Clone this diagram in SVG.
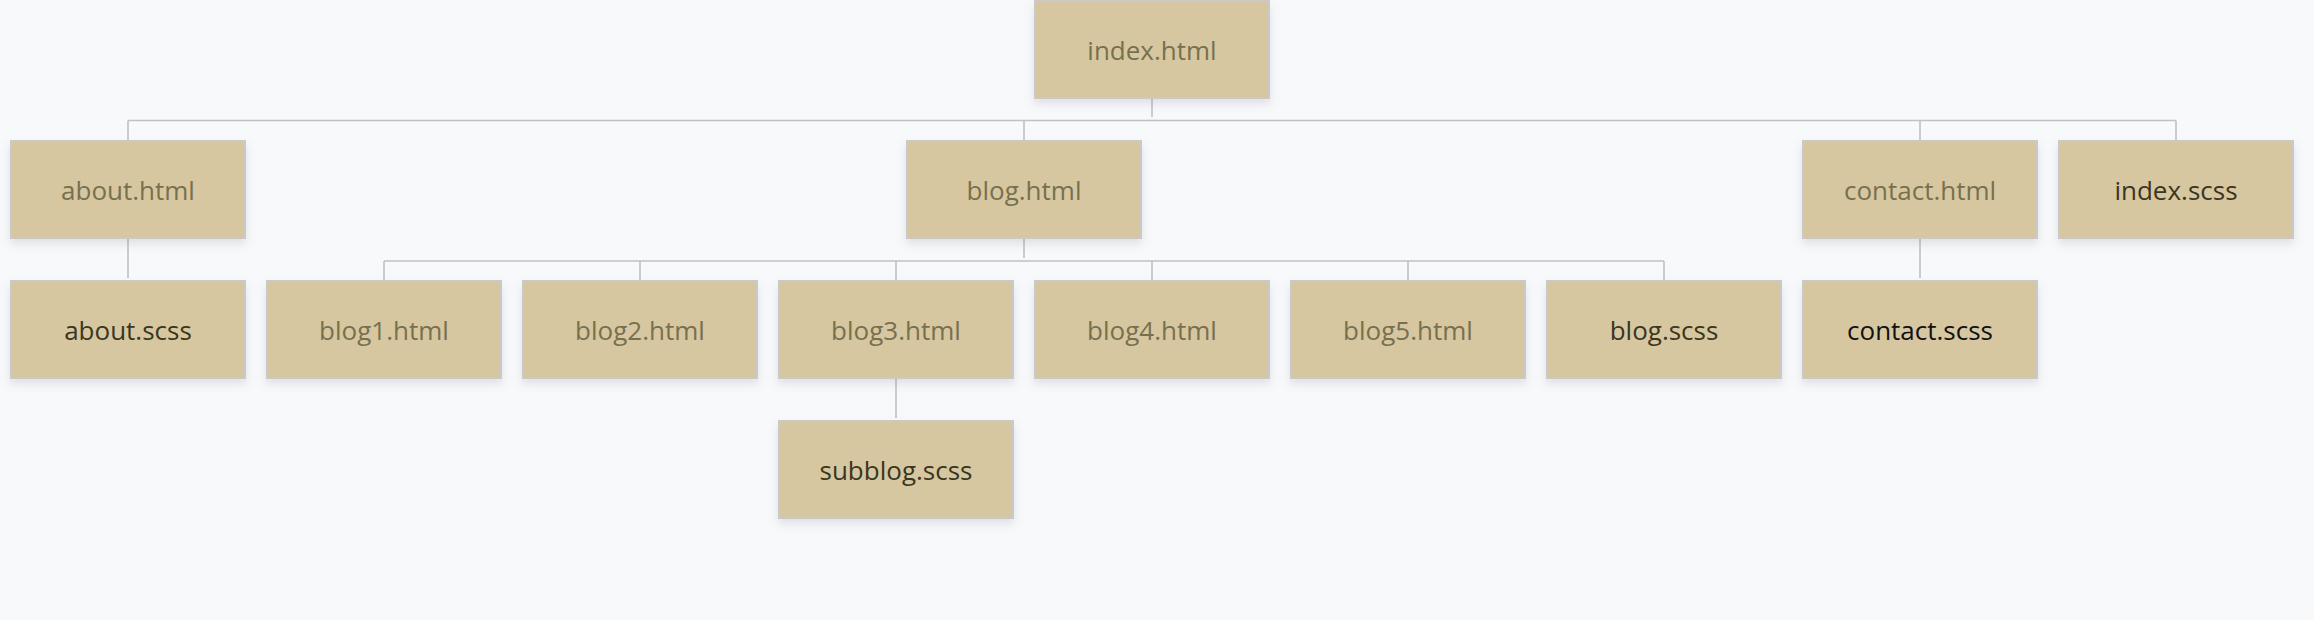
<svg xmlns="http://www.w3.org/2000/svg" width="2314" height="620" viewBox="0 0 2314 620">
<defs>
<filter id="sh" x="-10%" y="-20%" width="120%" height="150%">
<feDropShadow dx="0" dy="5" stdDeviation="5" flood-color="#6b6f7a" flood-opacity="0.18"/>
</filter>
<style>
.box{fill:#d6c7a0;stroke:#c9c9c9;stroke-width:2;filter:url(#sh)}
.t{font-family:"Open Sans","Noto Sans",sans-serif;font-size:26px;text-anchor:middle}
.h{fill:#76704f}
.s{fill:#3a3620}
.k{fill:#111111}
.c{fill:none;stroke:#bfc1c5;stroke-width:1.6}
</style>
</defs>
<rect width="2314" height="620" fill="#f8f9fb"/>
<g id="connectors">
<path class="c" d="M1152 99V117M128 120.5H2176M128 120.5V140M1024 120.5V140M1920 120.5V140M2176 120.5V140"/>
<path class="c" d="M1024 239V258M384 261H1664M384 261V280M640 261V280M896 261V280M1152 261V280M1408 261V280M1664 261V280"/>
<path class="c" d="M128 239V278M1920 239V278M896 379V418"/>
</g>
<g id="index_html"><rect class="box" x="1035" y="1" width="234" height="97"/><text class="t h" x="1152" y="60">index.html</text></g>
<g id="about_html"><rect class="box" x="11" y="141" width="234" height="97"/><text class="t h" x="128" y="200">about.html</text></g>
<g id="blog_html"><rect class="box" x="907" y="141" width="234" height="97"/><text class="t h" x="1024" y="200">blog.html</text></g>
<g id="contact_html"><rect class="box" x="1803" y="141" width="234" height="97"/><text class="t h" x="1920" y="200">contact.html</text></g>
<g id="index_scss"><rect class="box" x="2059" y="141" width="234" height="97"/><text class="t s" x="2176" y="200">index.scss</text></g>
<g id="about_scss"><rect class="box" x="11" y="281" width="234" height="97"/><text class="t s" x="128" y="340">about.scss</text></g>
<g id="blog1_html"><rect class="box" x="267" y="281" width="234" height="97"/><text class="t h" x="384" y="340">blog1.html</text></g>
<g id="blog2_html"><rect class="box" x="523" y="281" width="234" height="97"/><text class="t h" x="640" y="340">blog2.html</text></g>
<g id="blog3_html"><rect class="box" x="779" y="281" width="234" height="97"/><text class="t h" x="896" y="340">blog3.html</text></g>
<g id="blog4_html"><rect class="box" x="1035" y="281" width="234" height="97"/><text class="t h" x="1152" y="340">blog4.html</text></g>
<g id="blog5_html"><rect class="box" x="1291" y="281" width="234" height="97"/><text class="t h" x="1408" y="340">blog5.html</text></g>
<g id="blog_scss"><rect class="box" x="1547" y="281" width="234" height="97"/><text class="t s" x="1664" y="340">blog.scss</text></g>
<g id="contact_scss"><rect class="box" x="1803" y="281" width="234" height="97"/><text class="t k" x="1920" y="340">contact.scss</text></g>
<g id="subblog_scss"><rect class="box" x="779" y="421" width="234" height="97"/><text class="t s" x="896" y="480">subblog.scss</text></g>
</svg>
